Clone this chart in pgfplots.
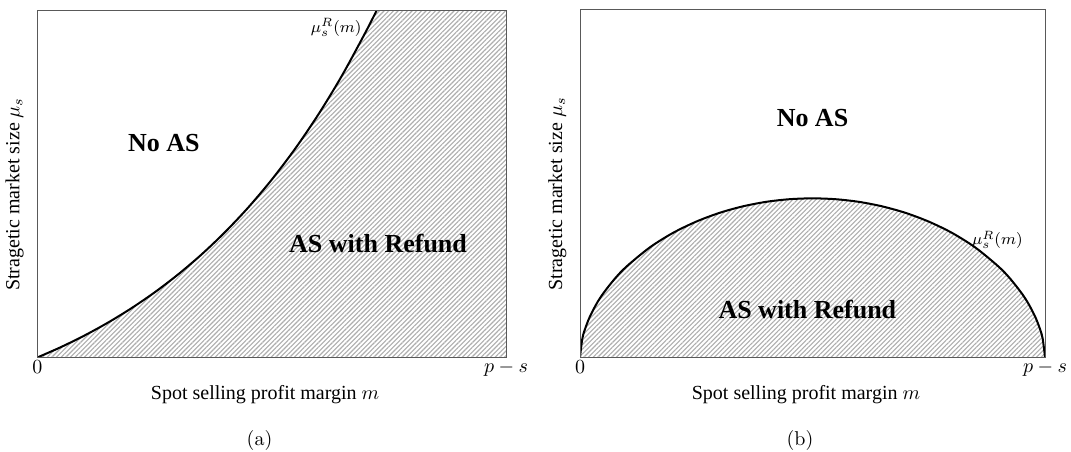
\documentclass[border=0pt]{standalone}
\usepackage{fontspec}
\newfontfamily\tnr{Liberation Serif}
\usepackage{pgfplots}
\pgfplotsset{compat=1.18}
\usetikzlibrary{patterns.meta}

\pgfplotsset{
 panel/.style={
  scale only axis, xmin=0,xmax=1,ymin=0,ymax=1,
  xtick={0,1}, xticklabels={$0$,$p-s$}, ytick=\empty,
  major tick length=0pt,
  axis on top=true,
  axis line style={draw=black!65, line width=0.5pt},
  xticklabel style={inner sep=1.5pt},
  label style={font=\tnr},
  xlabel={Spot selling profit margin $m$},
  ylabel={Stragetic market size $\mu_s$},
  xlabel style={at={(axis description cs:0.486,0)}, anchor=north, yshift=-10.5pt},
  ylabel style={at={(axis description cs:-0.014,0.47)}, anchor=south},
  anchor=south west,
 },
 hatch/.style={draw=none, pattern={Lines[angle=45,distance=1.65pt,line width=0.55pt]}, pattern color=black!32, forget plot},
 curve/.style={black, line width=1pt, no markers},
}
\newcommand{\regfont}{\tnr\bfseries\fontsize{13}{15}\selectfont}

\begin{document}
\begin{tikzpicture}
\path[use as bounding box] (0,0) rectangle (535.5pt,225.5pt);

\begin{axis}[panel, at={(18.65pt,46.75pt)}, width=234.35pt, height=173.75pt]
\addplot[hatch] coordinates {(0,0) (0.05,0.0297) (0.10,0.0628) (0.15,0.0998) (0.20,0.1411) (0.25,0.1871) (0.30,0.2386) (0.35,0.2960) (0.40,0.3601) (0.45,0.4316) (0.50,0.5115) (0.55,0.6006) (0.60,0.7001) (0.65,0.8112) (0.70,0.9352) (0.7245,1.0) (1,1) (1,0)} \closedcycle;
\addplot[curve, smooth] coordinates {(0,0) (0.05,0.0297) (0.10,0.0628) (0.15,0.0998) (0.20,0.1411) (0.25,0.1871) (0.30,0.2386) (0.35,0.2960) (0.40,0.3601) (0.45,0.4316) (0.50,0.5115) (0.55,0.6006) (0.60,0.7001) (0.65,0.8112) (0.70,0.9352) (0.7245,1.0)};
\node[font=\regfont] at (axis cs:0.27,0.617) {No AS};
\node[font=\regfont] at (axis cs:0.727,0.327) {AS with Refund};
\node[font=\footnotesize, anchor=east, inner sep=1pt] at (axis cs:0.697,0.950) {$\mu_s^R(m)$};
\end{axis}

\begin{axis}[panel, at={(290pt,47pt)}, width=232.5pt, height=173.5pt]
\addplot[hatch] coordinates {(0,0) (0.005,0.0530) (0.01,0.0774) (0.02,0.1127) (0.035,0.1521) (0.05,0.1834) (0.075,0.2259) (0.10,0.2607) (0.15,0.3157) (0.20,0.3577) (0.25,0.3902) (0.30,0.4154) (0.35,0.4341) (0.40,0.4471) (0.45,0.4547) (0.50,0.4572) (0.55,0.4547) (0.60,0.4471) (0.65,0.4341) (0.70,0.4154) (0.75,0.3902) (0.80,0.3577) (0.85,0.3157) (0.90,0.2607) (0.925,0.2259) (0.95,0.1834) (0.965,0.1521) (0.98,0.1127) (0.99,0.0774) (0.995,0.0530) (1,0)} \closedcycle;
\addplot[curve, smooth] coordinates {(0,0) (0.005,0.0530) (0.01,0.0774) (0.02,0.1127) (0.035,0.1521) (0.05,0.1834) (0.075,0.2259) (0.10,0.2607) (0.15,0.3157) (0.20,0.3577) (0.25,0.3902) (0.30,0.4154) (0.35,0.4341) (0.40,0.4471) (0.45,0.4547) (0.50,0.4572) (0.55,0.4547) (0.60,0.4471) (0.65,0.4341) (0.70,0.4154) (0.75,0.3902) (0.80,0.3577) (0.85,0.3157) (0.90,0.2607) (0.925,0.2259) (0.95,0.1834) (0.965,0.1521) (0.98,0.1127) (0.99,0.0774) (0.995,0.0530) (1,0)};
\node[font=\regfont] at (axis cs:0.5,0.689) {No AS};
\node[font=\regfont] at (axis cs:0.489,0.138) {AS with Refund};
\node[font=\footnotesize, anchor=west, inner sep=1pt] at (axis cs:0.838,0.337) {$\mu_s^R(m)$};
\end{axis}

\node at (129.75pt,5.5pt) {(a)};
\node at (400pt,5.5pt) {(b)};
\end{tikzpicture}
\end{document}
